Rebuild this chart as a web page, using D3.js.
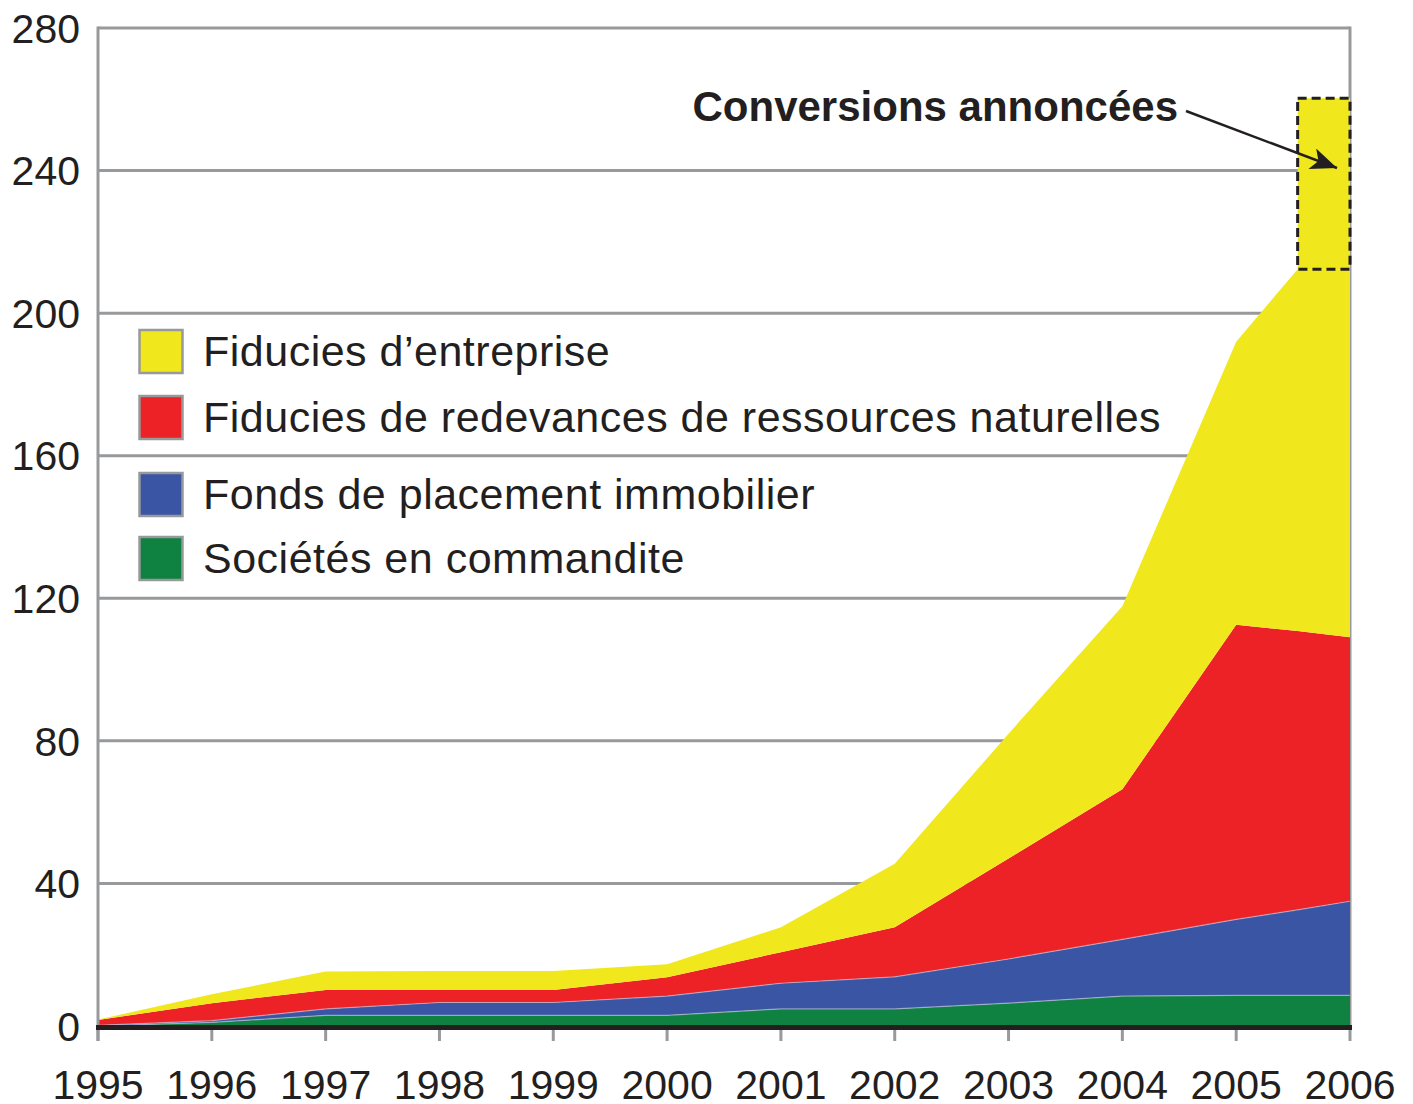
<!DOCTYPE html>
<html>
<head>
<meta charset="utf-8">
<script src="https://cdn.jsdelivr.net/npm/d3@7"></script>
<style>
  html, body { margin: 0; padding: 0; background: #ffffff; }
  svg text { font-family: "Liberation Sans", Arial, Helvetica, sans-serif; fill: #231f20; }
</style>
</head>
<body>
<svg id="chart" width="1413" height="1104"></svg>
<script>
// ---- Data ----
// x positions of the data points (years); 2005.54 marks the left edge of the "announced" block
const periods = [1995, 1996, 1997, 1998, 1999, 2000, 2001, 2002, 2003, 2004, 2005, 2005.54, 2006];
const tickYears = [1995, 1996, 1997, 1998, 1999, 2000, 2001, 2002, 2003, 2004, 2005, 2006];
const yTicks = [0, 40, 80, 120, 160, 200, 240, 280];

const seriesNames = [
  "Sociétés en commandite",
  "Fonds de placement immobilier",
  "Fiducies de redevances de ressources naturelles",
  "Fiducies d\u2019entreprise"
];
const societes   = [0.0, 1.0, 3.0, 3.0, 3.0, 3.0, 4.8, 4.8, 6.4, 8.4, 8.6, 8.6, 8.6];
const fondsImmo  = [0.2, 0.5, 1.8, 3.6, 3.6, 5.4, 7.2, 9.0, 12.4, 15.9, 21.3, 24.0, 26.4];
const redevances = [1.5, 4.9, 5.3, 3.5, 3.5, 5.3, 8.7, 13.9, 28.2, 42.1, 82.7, 78.2, 74.1];
const entreprise = [0.1, 2.5, 5.2, 5.3, 5.3, 3.6, 7.0, 17.8, 35.0, 51.4, 79.4, 101.5, 103.2];
const colors = ["#0f8241", "#3a55a4", "#ec2227", "#f0e81c"];

// announced conversions block
const conversionsRange = [212.3, 260.3];
const conversionsYears = [2005.54, 2006];
const conversionsLabel = "Conversions annonc\u00e9es";

// legend order (top to bottom)
const legendOrder = [3, 2, 1, 0];

// ---- Build ----
const svg = d3.select("#chart");
const x = d3.scaleLinear().domain([1995, 2006]).range([98, 1350]);
const y = d3.scaleLinear().domain([0, 280]).range([1026, 28]);
const gray = "#98999b";

const rows = periods.map((p, i) => ({
  year: p,
  s0: societes[i], s1: fondsImmo[i], s2: redevances[i], s3: entreprise[i]
}));
const stack = d3.stack().keys(["s0", "s1", "s2", "s3"]);
const layers = stack(rows);

// gridlines
svg.append("g").selectAll("line").data(yTicks.filter(t => t > 0)).join("line")
  .attr("x1", x(1995)).attr("x2", x(2006))
  .attr("y1", d => y(d)).attr("y2", d => y(d))
  .attr("stroke", gray).attr("stroke-width", 3);

// right border
svg.append("line").attr("x1", x(2006)).attr("x2", x(2006))
  .attr("y1", y(280) - 1.5).attr("y2", y(0))
  .attr("stroke", gray).attr("stroke-width", 3);

// areas
const area = d3.area()
  .x(d => x(d.data.year))
  .y0(d => y(d[0]))
  .y1(d => y(d[1]));
svg.append("g").selectAll("path").data(layers).join("path")
  .attr("d", area)
  .attr("fill", (d, i) => colors[i]);

// thin light separators on top of green and blue
const topLine = d3.line().x(d => x(d.data.year)).y(d => y(d[1]));
svg.append("g").selectAll("path").data(layers.slice(0, 2)).join("path")
  .attr("d", topLine)
  .attr("fill", "none")
  .attr("stroke", "#c8c8dc")
  .attr("stroke-opacity", 0.6)
  .attr("stroke-width", 1.2);

// conversions block (dashed)
svg.append("rect")
  .attr("x", x(conversionsYears[0]))
  .attr("y", y(conversionsRange[1]))
  .attr("width", x(conversionsYears[1]) - x(conversionsYears[0]))
  .attr("height", y(conversionsRange[0]) - y(conversionsRange[1]))
  .attr("fill", colors[3])
  .attr("stroke", "#231f20")
  .attr("stroke-width", 3)
  .attr("stroke-dasharray", "9,5");

// left axis line
svg.append("line").attr("x1", x(1995)).attr("x2", x(1995))
  .attr("y1", y(280) - 1.5).attr("y2", y(0) + 15)
  .attr("stroke", gray).attr("stroke-width", 3);

// x ticks
svg.append("g").selectAll("line").data(tickYears).join("line")
  .attr("x1", d => x(d)).attr("x2", d => x(d))
  .attr("y1", y(0)).attr("y2", y(0) + 15)
  .attr("stroke", gray).attr("stroke-width", 3);

// zero baseline
svg.append("line").attr("x1", x(1995) - 2).attr("x2", x(2006) + 2)
  .attr("y1", y(0) + 1.5).attr("y2", y(0) + 1.5)
  .attr("stroke", "#231f20").attr("stroke-width", 5);

// y labels
svg.append("g").selectAll("text").data(yTicks).join("text")
  .attr("x", 80).attr("y", d => y(d))
  .attr("dy", "0.36em")
  .attr("text-anchor", "end")
  .attr("font-size", 41)
  .text(d => d);

// x labels
svg.append("g").selectAll("text").data(tickYears).join("text")
  .attr("x", d => x(d)).attr("y", 1099)
  .attr("text-anchor", "middle")
  .attr("font-size", 41)
  .text(d => d);

// legend
const legendY = [351, 417, 494, 558];
const lg = svg.append("g").selectAll("g").data(legendOrder).join("g")
  .attr("transform", (d, i) => `translate(0, ${legendY[i]})`);
lg.append("rect")
  .attr("x", 139.5).attr("y", -21)
  .attr("width", 43).attr("height", 43)
  .attr("fill", d => colors[d])
  .attr("stroke", gray).attr("stroke-width", 2.5);
lg.append("text")
  .attr("x", 203).attr("y", 0).attr("dy", "0.35em")
  .attr("font-size", 43)
  .attr("letter-spacing", 0.5)
  .text(d => seriesNames[d]);

// annotation
svg.append("text")
  .attr("x", 1178).attr("y", 121)
  .attr("text-anchor", "end")
  .attr("font-size", 42)
  .attr("font-weight", "bold")
  .text(conversionsLabel);

const defs = svg.append("defs");
defs.append("marker")
  .attr("id", "arrow")
  .attr("viewBox", "0 0 12 10")
  .attr("refX", 12).attr("refY", 5)
  .attr("markerWidth", 28).attr("markerHeight", 22)
  .attr("markerUnits", "userSpaceOnUse")
  .attr("orient", "auto")
  .append("path").attr("d", "M0,0 L12,5 L0,10 L3,5 Z").attr("fill", "#231f20");

svg.append("line")
  .attr("x1", 1186).attr("y1", 111)
  .attr("x2", 1337).attr("y2", 168)
  .attr("stroke", "#231f20").attr("stroke-width", 2.5)
  .attr("marker-end", "url(#arrow)");
</script>
</body>
</html>
